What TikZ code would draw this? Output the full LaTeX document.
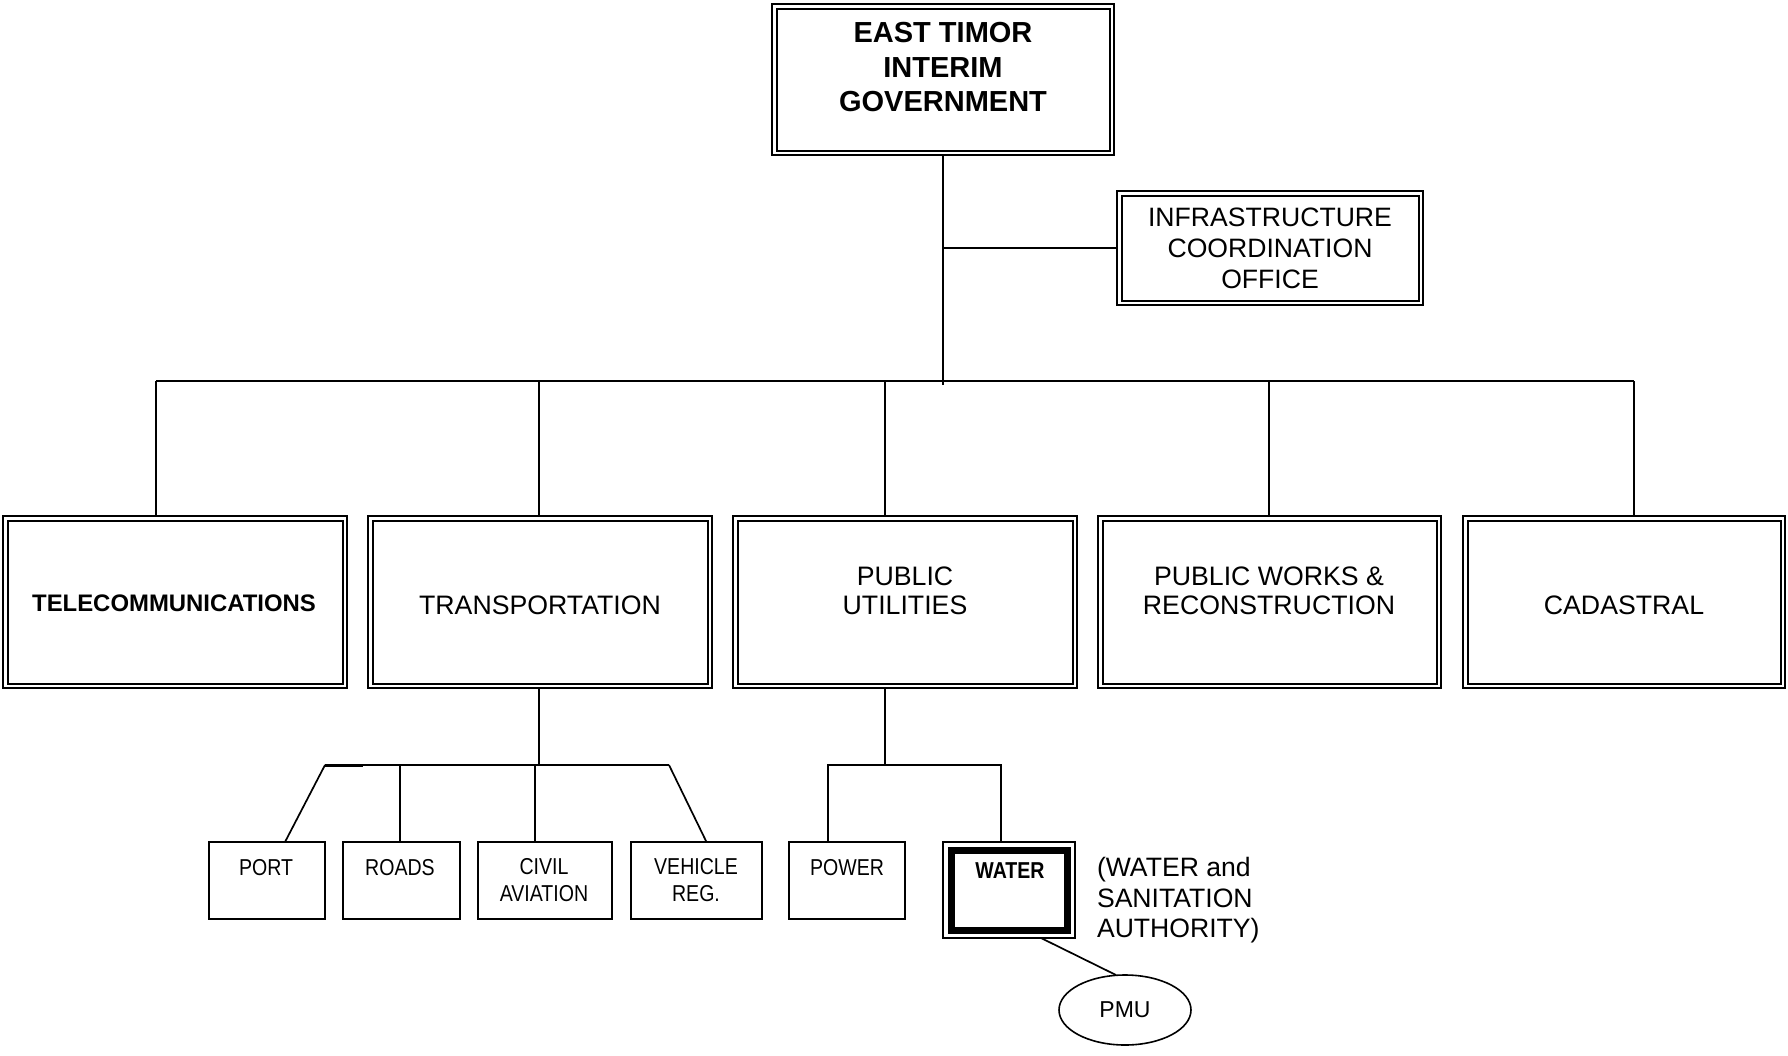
\documentclass[tikz,border=0pt]{standalone}
\usepackage{fontspec}
\setmainfont{Liberation Sans}
\newfontfamily\narrowfont[FakeStretch=0.85]{Liberation Sans}
\usetikzlibrary{shapes.geometric,backgrounds}
\newcommand\fgov{\bfseries\fontsize{29}{34.5}\selectfont}
\newcommand\fico{\fontsize{26.6}{31}\selectfont}
\newcommand\fmain{\fontsize{26.7}{29}\selectfont}
\newcommand\ftel{\bfseries\fontsize{23.9}{29}\selectfont}
\newcommand\fsmall{\narrowfont\fontsize{23}{27}\selectfont}
\newcommand\fwater{\narrowfont\bfseries\fontsize{23}{27}\selectfont}
\newcommand\fside{\fontsize{26.6}{30.5}\selectfont}
\newcommand\fpmu{\fontsize{23}{27}\selectfont}
\begin{document}
\begin{tikzpicture}[x=1pt,y=-1pt,
  every node/.style={inner sep=0pt, outer sep=0pt},
  dbox/.style={draw, line width=2pt, double=white, double distance=2.5pt, fill=white},
  mainbox/.style={dbox, minimum width=339.5pt, minimum height=167.5pt},
  sbox/.style={draw, line width=1.6pt, fill=white, minimum height=77pt},
  txt/.style={align=center},
  conn/.style={line width=1.7pt}]
\useasboundingbox (0,0) rectangle (1788,1055);

% top level
\node[dbox, minimum width=337.5pt, minimum height=146.5pt] (gov) at (943,79.5) {};
\node[txt, font=\fgov] (govt) at (943,67.5) {EAST TIMOR\\INTERIM\\GOVERNMENT};
\node[dbox, minimum width=301.5pt, minimum height=109.5pt, txt, font=\fico] (ico) at (1270,248) {INFRASTRUCTURE\\COORDINATION\\OFFICE};

% main departments
\node[mainbox] (tel) at (175,602) {};
\node[txt, font=\ftel] (telt) at (174,603) {TELECOMMUNICATIONS};
\node[mainbox] (tr) at (540,602) {};
\node[txt, font=\fmain] (trt) at (540,605) {TRANSPORTATION};
\node[mainbox] (pu) at (905,602) {};
\node[txt, font=\fmain] (put) at (905,590.5) {PUBLIC\\UTILITIES};
\node[mainbox, minimum width=338.5pt] (pw) at (1269.5,602) {};
\node[txt, font=\fmain] (pwt) at (1269,590.5) {PUBLIC WORKS \&\\RECONSTRUCTION};
\node[mainbox, minimum width=317.5pt] (cad) at (1624,602) {};
\node[txt, font=\fmain] (cadt) at (1624,605) {CADASTRAL};

% transport units
\node[sbox, minimum width=116pt] (port) at (267,880.5) {};
\node[txt, font=\fsmall] (portt) at (266,868) {PORT};
\node[sbox, minimum width=117pt] (roads) at (401.5,880.5) {};
\node[txt, font=\fsmall] (roadst) at (400,868) {ROADS};
\node[sbox, minimum width=134pt] (civ) at (545,880.5) {};
\node[txt, font=\fsmall] (civt) at (544,880.5) {CIVIL\\AVIATION};
\node[sbox, minimum width=131pt] (veh) at (696.5,880.5) {};
\node[txt, font=\fsmall] (veht) at (696,880.5) {VEHICLE\\REG.};

% utilities units
\node[sbox, minimum width=116pt] (power) at (847,880.5) {};
\node[txt, font=\fsmall] (powert) at (847,868) {POWER};
\node[sbox, minimum width=132pt, minimum height=96pt] (water) at (1009,890) {};
\draw[line width=7pt] ([shift={(8,8)}]water.north west) rectangle ([shift={(-8,-8)}]water.south east);
\node[txt, font=\fwater] (watert) at (1010,871) {WATER};
\node[align=left, anchor=west, font=\fside] (wsa) at (1097,900.5) {(WATER and\\SANITATION\\AUTHORITY)};
\node[draw, ellipse, line width=1.6pt, fill=white, minimum width=132pt, minimum height=70pt, font=\fpmu] (pmu) at (1125,1010) {PMU};

\begin{scope}[on background layer]
\fill[white] (0,0) rectangle (1788,1055);
\begin{scope}[conn]
\coordinate (govend) at (943,385);
\draw (gov.south) -- (govend);
\draw (ico.west) -- (ico.west -| gov.south);
\coordinate (b1) at (156,381);
\coordinate (b2) at (539,381);
\coordinate (b3) at (885,381);
\coordinate (b4) at (1269,381);
\coordinate (b5) at (1634,381);
\draw (b1) -- (b5);
\draw (b1) -- (b1 |- tel.north);
\draw (b2) -- (b2 |- tr.north);
\draw (b3) -- (b3 |- pu.north);
\draw (b4) -- (b4 |- pw.north);
\draw (b5) -- (b5 |- cad.north);
% transport
\coordinate (tj) at (539,765);
\coordinate (tl) at (325,765);
\coordinate (tk) at (363,765);
\coordinate (trr) at (669,765);
\coordinate (rj) at (400,765);
\coordinate (cj) at (535,765);
\draw[line width=2.2pt] (tj |- tr.south) -- (tj);
\draw (tl) -- (trr);
\draw[line width=3pt] (tl) -- (tk);
\draw (tl) -- ([xshift=18pt]port.north);
\draw (rj) -- (rj |- roads.north);
\draw (cj) -- (cj |- civ.north);
\draw (trr) -- ([xshift=10pt]veh.north);
% utilities
\coordinate (uj) at (885,765);
\coordinate (ul) at (828,765);
\coordinate (ur) at (1001,765);
\draw (uj |- pu.south) -- (uj);
\draw (ul |- power.north) -- (ul) -- (ur) -- (ur |- water.north);
\draw ([xshift=32pt]water.south) -- ([xshift=-9pt]pmu.north);
\end{scope}
\end{scope}
\end{tikzpicture}
\end{document}
